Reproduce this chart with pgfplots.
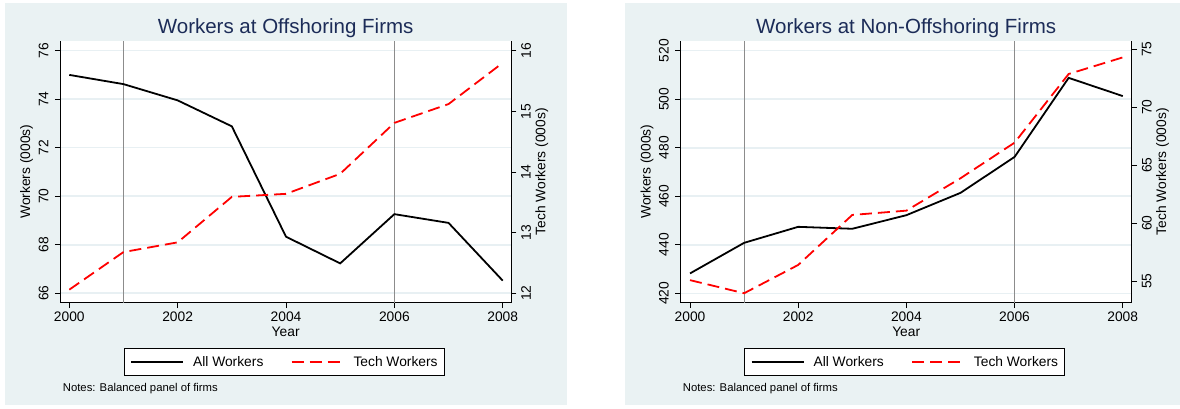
\documentclass[border=0pt]{standalone}
\usepackage{pgfplots}
\usepackage{pgfplotstable}
\pgfplotsset{compat=1.18}
\usepackage{fontspec}
\setmainfont{Liberation Sans}
\definecolor{bgc}{RGB}{234,242,243}
\definecolor{gridc}{RGB}{232,240,243}
\definecolor{titc}{RGB}{28,44,88}
\definecolor{refc}{RGB}{140,140,140}
\definecolor{techred}{RGB}{255,0,0}

\pgfplotstableread{
year all tech
2000 75.00 12.06
2001 74.62 12.68
2002 73.95 12.84
2003 72.88 13.59
2004 68.33 13.64
2005 67.23 13.97
2006 69.26 14.81
2007 68.90 15.12
2008 66.52 15.80
}\offshore
\pgfplotstableread{
year all tech
2000 428.2 55.10
2001 440.8 53.97
2002 447.4 56.41
2003 446.6 60.72
2004 452.2 61.09
2005 461.4 63.88
2006 476.2 66.95
2007 508.8 72.87
2008 501.3 74.30
}\nonoffshore

\newcommand{\lblfont}{\fontsize{13.8bp}{16bp}\selectfont}

\pgfplotsset{
  base/.style={
    scale only axis, height=262bp,
    /pgf/number format/assume math mode=true,
    /pgf/number format/1000 sep={},
    ticklabel style={font=\lblfont, inner sep=0pt},
    tick align=outside, major tick length=5.5bp,
    tick style={black, line width=0.8bp},
    axis line style={black, line width=0.8bp},
  },
  leftax/.style={base,
    axis x line*=bottom, axis y line*=left,
    axis background/.style={fill=white},
    xtick={2000,2002,2004,2006,2008},
    xticklabel style={anchor=north},
    xticklabel shift=3.5bp,
    yticklabel style={rotate=90, anchor=base},
    yticklabel shift=6.5bp,
    ymajorgrids, grid style={gridc, line width=1.6bp},
    every axis x label/.style={at={(axis description cs:0.5,-0.1107)}, anchor=center, font=\lblfont},
    every axis y label/.style={at={(axis description cs:-0.0746,0.5)}, anchor=center, rotate=90, font=\lblfont},
    every axis title/.style={at={(axis description cs:0.5,1.0282)}, anchor=base, font=\fontsize{20.5bp}{24bp}\selectfont, text=titc},
    xlabel={Year}, ylabel={Workers (000s)},
  },
  rightax/.style={base,
    axis x line=none, axis y line*=right,
    yticklabel style={rotate=90, anchor=north},
    yticklabel shift=4.5bp,
    every axis y label/.style={at={(axis description cs:1.0681,0.5)}, anchor=center, rotate=90, font=\lblfont},
    ylabel={Tech Workers (000s)},
    legend columns=2,
    legend cell align=left,
    legend style={at={(axis description cs:0.1405,-0.2263)}, anchor=west, draw=black, line width=0.8bp, fill=white,
      font=\lblfont, inner xsep=6.3bp, inner ysep=8.3bp,
      nodes={inner sep=0pt, text height=9.9bp, text depth=0pt},
      /tikz/every odd column/.style={column sep=9bp},
      /tikz/every even column/.style={column sep=27.3bp}},
    legend image code/.code={\draw[#1] (0bp,0bp) -- (52bp,0bp);},
  },
}

\begin{document}
\begin{tikzpicture}[x=1bp,y=1bp]
\path[use as bounding box] (0,0) rectangle (1180,408);
\fill[bgc] (5,3) rectangle (567,405);
\fill[bgc] (625,3) rectangle (1180,405);

% ---------- Left panel ----------
\begin{axis}[leftax, at={(60.3bp,105.3bp)}, anchor=south west, width=450.7bp,
  xmin=1999.834, xmax=2008.153, ymin=65.61, ymax=76.41,
  ytick={66,68,70,72,74,76},
  title={Workers at Offshoring Firms}]
\addplot[refc, line width=0.8bp, forget plot] coordinates {(2001,65.61) (2001,76.41)};
\addplot[refc, line width=0.8bp, forget plot] coordinates {(2006,65.61) (2006,76.41)};
\addplot[black, line width=1.8bp] table[x=year,y=all]{\offshore};
\end{axis}
\begin{axis}[rightax, at={(60.3bp,105.3bp)}, anchor=south west, width=450.7bp,
  xmin=1999.834, xmax=2008.153, ymin=11.845, ymax=16.165,
  ytick={12,13,14,15,16}]
\addlegendimage{black, line width=1.8bp}
\addlegendentry{All Workers}
\addplot[techred, line width=1.8bp, dash pattern=on 12bp off 6bp] table[x=year,y=tech]{\offshore};
\addlegendentry{Tech Workers\hspace{5.3bp}}
\end{axis}
\node[anchor=base west, font=\fontsize{11.3bp}{13bp}\selectfont, inner sep=0pt] at (62.7,17) {Notes: Balanced panel of firms};

% ---------- Right panel ----------
\begin{axis}[leftax, at={(680.7bp,105.3bp)}, anchor=south west, width=451bp,
  xmin=1999.828, xmax=2008.166, ymin=416.13, ymax=524.12,
  ytick={420,440,460,480,500,520},
  title={Workers at Non-Offshoring Firms}]
\addplot[refc, line width=0.8bp, forget plot] coordinates {(2001,416.13) (2001,524.12)};
\addplot[refc, line width=0.8bp, forget plot] coordinates {(2006,416.13) (2006,524.12)};
\addplot[black, line width=1.8bp] table[x=year,y=all]{\nonoffshore};
\end{axis}
\begin{axis}[rightax, at={(680.7bp,105.3bp)}, anchor=south west, width=451bp,
  xmin=1999.828, xmax=2008.166, ymin=53.155, ymax=75.74,
  ytick={55,60,65,70,75}]
\addlegendimage{black, line width=1.8bp}
\addlegendentry{All Workers}
\addplot[techred, line width=1.8bp, dash pattern=on 12bp off 6bp] table[x=year,y=tech]{\nonoffshore};
\addlegendentry{Tech Workers\hspace{5.3bp}}
\end{axis}
\node[anchor=base west, font=\fontsize{11.3bp}{13bp}\selectfont, inner sep=0pt] at (682.7,17) {Notes: Balanced panel of firms};
\end{tikzpicture}
\end{document}
